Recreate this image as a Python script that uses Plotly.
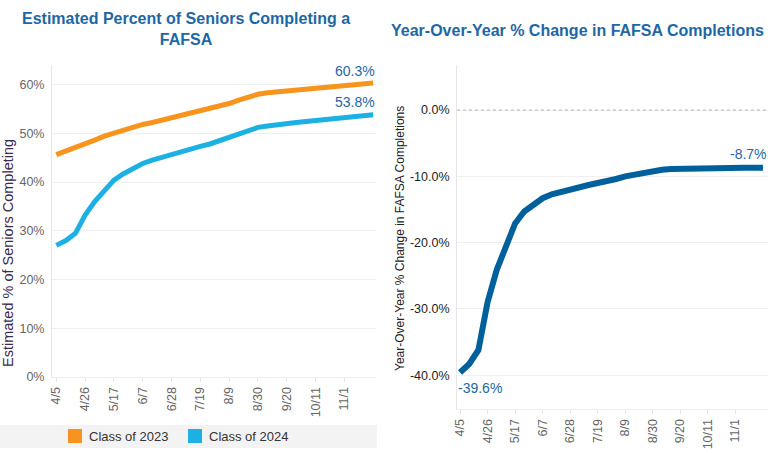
import plotly.graph_objects as go

weeks = ["4/5", "4/12", "4/19", "4/26", "5/3", "5/10", "5/17", "5/24", "5/31", "6/7",
         "6/14", "6/21", "6/28", "7/5", "7/12", "7/19", "7/26", "8/2", "8/9", "8/16",
         "8/23", "8/30", "9/6", "9/13", "9/20", "9/27", "10/4", "10/11", "10/18", "10/25",
         "11/1", "11/8", "11/15", "11/22"]
tick_labels = ["4/5", "4/26", "5/17", "6/7", "6/28", "7/19", "8/9", "8/30", "9/20", "10/11", "11/1"]

class_2023 = [45.6, 46.3, 47.0, 47.8, 48.6, 49.4, 50.0, 50.7, 51.3, 51.8,
              52.2, 52.7, 53.1, 53.6, 54.0, 54.5, 55.0, 55.5, 56.1, 56.8,
              57.4, 58.0, 58.3, 58.5, 58.7, 58.9, 59.1, 59.3, 59.5, 59.6,
              59.8, 60.0, 60.1, 60.3]
class_2024 = [27.0, 28.0, 29.5, 33.2, 36.0, 38.4, 40.4, 41.7, 42.8, 43.8,
              44.5, 45.1, 45.7, 46.3, 46.8, 47.3, 47.8, 48.5, 49.2, 49.9,
              50.6, 51.2, 51.5, 51.8, 52.0, 52.2, 52.4, 52.6, 52.8, 53.0,
              53.2, 53.4, 53.6, 53.8]
yoy_change = [-39.6, -38.3, -36.2, -29.0, -24.1, -20.4, -17.1, -15.3, -14.2, -13.3,
              -12.7, -12.3, -11.9, -11.6, -11.3, -11.0, -10.8, -10.4, -10.0, -9.7,
              -9.4, -9.2, -9.0, -8.9, -8.85, -8.8, -8.8, -8.8, -8.8, -8.75,
              -8.75, -8.7, -8.7, -8.7]
left_yticks = [0, 10, 20, 30, 40, 50, 60]
right_yticks = [0, -10, -20, -30, -40]

series_names = ["Class of 2023", "Class of 2024"]
ORANGE = "#F7941D"
LBLUE = "#1DB1E3"
DBLUE = "#00609C"
TITLE = "#1E67A4"

W, H = 776, 453
def px(x):
    return x / W
def py(y):
    return 1 - y / H

fig = go.Figure()
fig.add_trace(go.Scatter(x=weeks, y=class_2023, mode="lines", name=series_names[0],
                         line=dict(color=ORANGE, width=5), xaxis="x", yaxis="y",
                         showlegend=False))
fig.add_trace(go.Scatter(x=weeks, y=class_2024, mode="lines", name=series_names[1],
                         line=dict(color=LBLUE, width=5), xaxis="x", yaxis="y",
                         showlegend=False))
fig.add_trace(go.Scatter(x=weeks, y=yoy_change, mode="lines", name="YoY",
                         line=dict(color=DBLUE, width=6), xaxis="x2", yaxis="y2",
                         showlegend=False))

tickfont_l = dict(family="Arial, Liberation Sans, sans-serif", size=12.5, color="#666666")
tickfont_r = dict(family="Arial, Liberation Sans, sans-serif", size=12.5, color="#222222")

fig.update_layout(
    template="none",
    width=W, height=H,
    margin=dict(l=0, r=0, t=0, b=0, autoexpand=False),
    paper_bgcolor="white", plot_bgcolor="white",
    font=dict(family="Arial, Liberation Sans, sans-serif"),
    xaxis=dict(domain=[px(52), px(376)], type="category", range=[-0.45, 33.3],
               tickmode="array", tickvals=tick_labels, ticktext=tick_labels,
               tickangle=-90, tickfont=tickfont_l, showgrid=False,
               ticks="outside", ticklen=4, tickcolor="#e6e6e6",
               showline=True, linecolor="#eeeeee", anchor="y", automargin=False),
    yaxis=dict(domain=[py(377), py(65)], range=[0, 64], tickmode="array",
               tickvals=left_yticks, ticktext=[f"{v}%" for v in left_yticks],
               tickfont=tickfont_l, gridcolor="#efefef", showgrid=True,
               zeroline=False, showline=True, linecolor="#e6e6e6", anchor="x",
               ticks="", ticklabelstandoff=4, automargin=False),
    xaxis2=dict(domain=[px(457), px(768)], type="category", range=[-0.33, 33.55],
                tickmode="array", tickvals=tick_labels, ticktext=tick_labels,
                tickangle=-90, tickfont=tickfont_l, showgrid=False,
                ticks="outside", ticklen=4, tickcolor="#e6e6e6",
                showline=True, linecolor="#eeeeee", anchor="y2", automargin=False),
    yaxis2=dict(domain=[py(409), py(65)], range=[-45.1, 6.8], tickmode="array",
                tickvals=right_yticks, ticktext=[f"{v:.1f}%" for v in right_yticks],
                tickfont=tickfont_r, gridcolor="#efefef", showgrid=True,
                zeroline=False, showline=True,
                linecolor="#e6e6e6", anchor="x2", ticks="", ticklabelstandoff=4,
                automargin=False),
)

# dotted zero reference line
fig.add_shape(type="line", xref="x2 domain", yref="y2", x0=0, x1=1, y0=0, y1=0,
              line=dict(color="#b5b5b5", width=1, dash="dot"))

# legend band
fig.add_shape(type="rect", xref="paper", yref="paper", x0=0, x1=px(377),
              y0=py(448), y1=py(425), fillcolor="#f3f3f3", line=dict(width=0), layer="below")
leg = [(68, ORANGE, series_names[0]), (188, LBLUE, series_names[1])]
for x0, c, name in leg:
    fig.add_shape(type="rect", xref="paper", yref="paper", x0=px(x0), x1=px(x0 + 14),
                  y0=py(443), y1=py(429), fillcolor=c, line=dict(width=0))
    fig.add_annotation(xref="paper", yref="paper", x=px(x0 + 19), y=py(436), text=name,
                       showarrow=False, xanchor="left", yanchor="middle",
                       font=dict(size=13, color="#333333"))

# titles
fig.add_annotation(xref="paper", yref="paper", x=px(186), y=py(29),
                   text="<b>Estimated Percent of Seniors Completing a<br>FAFSA</b>",
                   showarrow=False, xanchor="center", yanchor="middle",
                   font=dict(size=16, color=TITLE))
fig.add_annotation(xref="paper", yref="paper", x=px(577), y=py(30),
                   text="<b>Year-Over-Year % Change in FAFSA Completions</b>",
                   showarrow=False, xanchor="center", yanchor="middle",
                   font=dict(size=16, color=TITLE))

# axis titles
fig.add_annotation(xref="paper", yref="paper", x=px(8), y=py(253),
                   text="Estimated % of Seniors Completing", textangle=-90,
                   showarrow=False, xanchor="center", yanchor="middle",
                   font=dict(size=14.5, color="#3b2a4d"))
fig.add_annotation(xref="paper", yref="paper", x=px(400), y=py(238),
                   text="Year-Over-Year % Change in FAFSA Completions", textangle=-90,
                   showarrow=False, xanchor="center", yanchor="middle",
                   font=dict(size=12, color="#222222"))

# value labels
fig.add_annotation(x=weeks[-1], y=class_2023[-1], xref="x", yref="y",
                   text=f"{class_2023[-1]:.1f}%", showarrow=False,
                   xanchor="right", yanchor="bottom", xshift=4, yshift=2,
                   font=dict(size=14, color=TITLE))
fig.add_annotation(x=weeks[-1], y=class_2024[-1], xref="x", yref="y",
                   text=f"{class_2024[-1]:.1f}%", showarrow=False,
                   xanchor="right", yanchor="bottom", xshift=4, yshift=3,
                   font=dict(size=14, color=TITLE))
fig.add_annotation(x=weeks[-1], y=yoy_change[-1], xref="x2", yref="y2",
                   text=f"{yoy_change[-1]:.1f}%", showarrow=False,
                   xanchor="right", yanchor="bottom", xshift=6, yshift=4,
                   font=dict(size=14, color=TITLE))
fig.add_annotation(x=weeks[0], y=yoy_change[0], xref="x2", yref="y2",
                   text=f"{yoy_change[0]:.1f}%", showarrow=False,
                   xanchor="left", yanchor="top", xshift=-4, yshift=-5,
                   font=dict(size=14, color=TITLE))

fig.write_html("out.html", config={"displayModeBar": False},
               post_script="document.body.style.margin='0';document.body.style.overflow='hidden';")
